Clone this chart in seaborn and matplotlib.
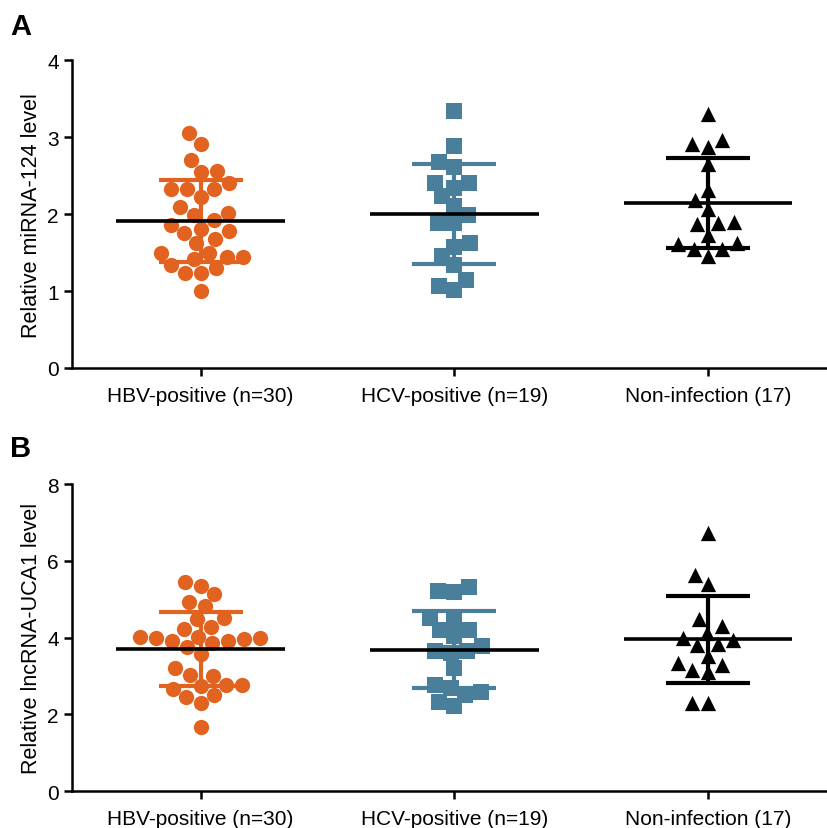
import numpy as np
import pandas as pd
import matplotlib.pyplot as plt
import seaborn as sns

groups = ['HBV-positive (n=30)', 'HCV-positive (n=19)', 'Non-infection (17)']
colors = ['#E2631F', '#4A7F9B', '#000000']
bar_colors = ['#E2631F', '#4A7F9B', '#000000']
markers = ['o', 's', '^']

# panel A: relative miRNA-124 level
mir_hbv = [3.05, 2.91, 2.71, 2.56, 2.55, 2.41, 2.33, 2.33, 2.33, 2.22,
           2.09, 2.02, 1.99, 1.92, 1.86, 1.81, 1.76, 1.78, 1.68, 1.62,
           1.50, 1.50, 1.44, 1.42, 1.44, 1.34, 1.30, 1.24, 1.24, 1.00]
mir_hcv = [3.34, 2.89, 2.68, 2.61, 2.41, 2.41, 2.34, 2.23, 2.11, 1.99,
           1.88, 1.88, 1.62, 1.57, 1.46, 1.34, 1.14, 1.01, 1.06]
mir_non = [3.30, 2.87, 2.97, 2.91, 2.65, 2.32, 2.19, 2.07, 1.90, 1.87,
           1.89, 1.73, 1.62, 1.55, 1.46, 1.55, 1.61]

# panel B: relative lncRNA-UCA1 level
uca_hbv = [5.35, 5.45, 5.15, 4.94, 4.83, 4.48, 4.52, 4.22, 4.28, 4.03,
           3.98, 3.96, 3.90, 3.85, 3.90, 3.98, 4.03, 3.76, 3.57, 3.20,
           3.03, 2.99, 2.76, 2.67, 2.76, 2.74, 2.44, 2.50, 2.29, 1.66]
uca_hcv = [5.33, 5.20, 5.22, 4.52, 4.45, 4.20, 4.20, 4.04, 3.65, 3.59,
           3.65, 3.77, 3.20, 2.68, 2.51, 2.76, 2.59, 2.22, 2.31]
uca_non = [6.72, 5.63, 5.39, 4.48, 4.13, 4.30, 3.94, 3.98, 3.80, 3.83,
           3.35, 3.51, 3.16, 3.29, 3.11, 2.29, 2.29]

panels = [
    ('A', 'Relative miRNA-124 level', [mir_hbv, mir_hcv, mir_non], 4, [0, 1, 2, 3, 4]),
    ('B', 'Relative lncRNA-UCA1 level', [uca_hbv, uca_hcv, uca_non], 8, [0, 2, 4, 6, 8]),
]

sns.set_style('ticks')
plt.rcParams['font.family'] = ['Liberation Sans', 'DejaVu Sans']
plt.rcParams.update({'text.color': 'black', 'axes.labelcolor': 'black',
                     'xtick.color': 'black', 'ytick.color': 'black'})

fig = plt.figure(figsize=(8.28, 8.29), dpi=100)
axes_pos = [[0.087, 0.555, 0.913, 0.371], [0.087, 0.0446, 0.913, 0.370]]
label_y = [0.968, 0.458]

for (letter, ylabel, vals, ymax, yticks), pos, ly in zip(panels, axes_pos, label_y):
    ax = fig.add_axes(pos)
    for i, v in enumerate(vals):
        df = pd.DataFrame({'group': groups[i], 'value': v})
        sns.swarmplot(data=df, x='group', y='value', order=groups, ax=ax,
                      color=colors[i], marker=markers[i], size=11,
                      linewidth=0, zorder=2)
    for i, v in enumerate(vals):
        m = np.mean(v)
        s = np.std(v, ddof=1)
        ax.vlines(i, m - s, m + s, color=bar_colors[i], lw=3, zorder=3)
        ax.hlines([m - s, m + s], i - 0.165, i + 0.165, color=bar_colors[i], lw=3, zorder=3)
        ax.hlines(m, i - 0.332, i + 0.332, color='black', lw=2.6, zorder=4)
    ax.set_xlim(-0.507, 2.473)
    ax.set_ylim(0, ymax)
    ax.set_yticks(yticks)
    ax.set_xlabel('')
    ax.set_ylabel(ylabel, fontsize=15.5, labelpad=4)
    ax.tick_params(axis='both', labelsize=15, width=1.8, length=6, color='black')
    ax.tick_params(axis='x', pad=7)
    for sp in ['left', 'bottom']:
        ax.spines[sp].set_linewidth(1.8)
        ax.spines[sp].set_color('black')
    sns.despine(ax=ax)
    ax.spines['left'].set_zorder(5)
    fig.text(0.012, ly, letter, fontsize=21, fontweight='bold', va='center')

plt.savefig('out.png', dpi=100)
